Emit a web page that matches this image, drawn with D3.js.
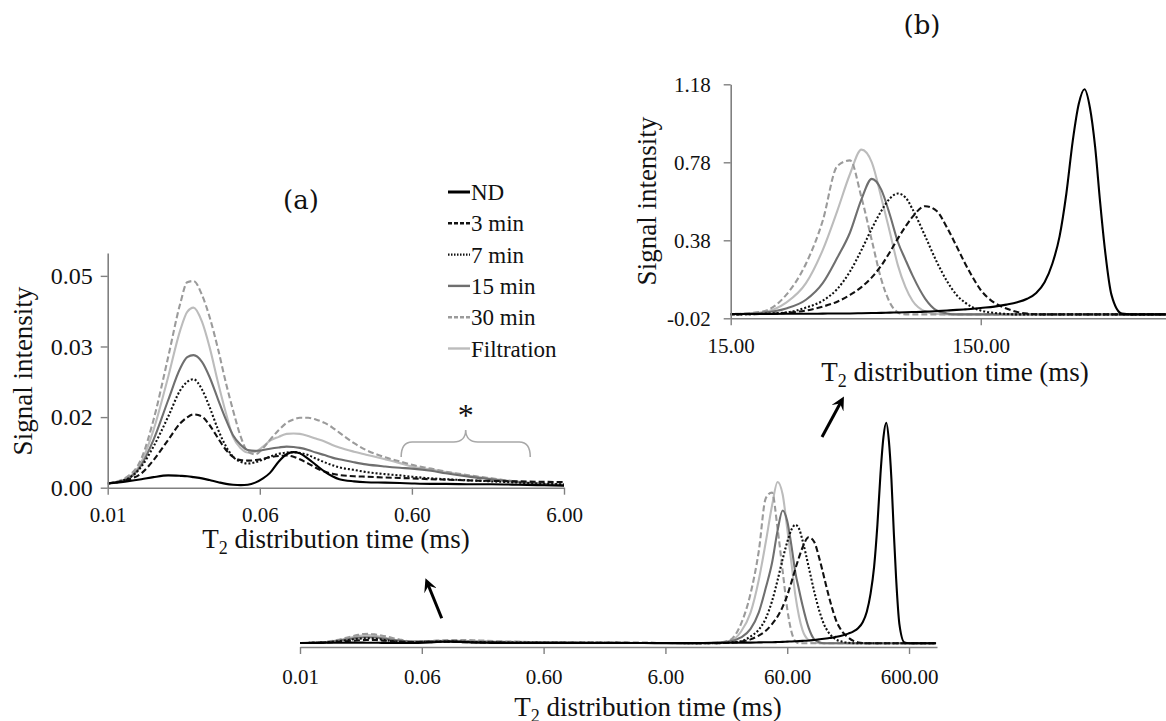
<!DOCTYPE html>
<html>
<head>
<meta charset="utf-8">
<script src="https://cdn.jsdelivr.net/npm/d3@7"></script>
<style>
    body { margin: 0; background: #fff; }
    svg text { font-family: "Liberation Serif", "Times New Roman", serif; fill: #111; }
</style>
</head>
<body>
<svg id="chart" width="1166" height="721"></svg>
<script>
// T2 grid (ms) shared by every series
const t2 = [0.006, 0.008, 0.01, 0.012, 0.015, 0.018, 0.02, 0.022, 0.025, 0.028,
    0.032, 0.036, 0.04, 0.045, 0.05, 0.056, 0.063, 0.07, 0.08, 0.09,
    0.1, 0.11, 0.125, 0.14, 0.16, 0.18, 0.2, 0.25, 0.3, 0.4,
    0.5, 0.6, 0.8, 1, 1.5, 2, 3, 4, 6, 10,
    15, 20, 25, 30, 35, 40, 45, 50, 55, 60, 65, 70, 75, 80,
    90, 100, 110, 120, 130, 140, 150,
    170, 190, 210, 230, 250, 270, 290, 310, 330, 350, 370, 390, 410, 430, 450, 470,
    500, 550, 600, 700, 1000];

// signal intensity of each series on the grid above
const nd = [0.001, 0.0015, 0.002, 0.0025, 0.0029, 0.0028, 0.0027, 0.0025, 0.0022, 0.0018,
    0.0013, 0.0009, 0.0007, 0.0006, 0.0007, 0.0012, 0.0022, 0.0035, 0.0062, 0.0079,
    0.0084, 0.0081, 0.0068, 0.0054, 0.0038, 0.0027, 0.002, 0.0015, 0.0013, 0.0012,
    0.0011, 0.001, 0.0009, 0.0009, 0.0008, 0.0008, 0.0007, 0.0006, 0.0005, 0.0003,
    0.002, 0.002, 0.003, 0.003, 0.004, 0.005, 0.005, 0.006, 0.007, 0.008, 0.009, 0.01, 0.011, 0.012,
    0.014, 0.017, 0.02, 0.023, 0.026, 0.029, 0.033,
    0.04, 0.05, 0.062, 0.08, 0.11, 0.165, 0.26, 0.4, 0.62, 0.89, 1.08, 1.155, 1.06, 0.86, 0.58, 0.34,
    0.1, 0.004, 0, 0, 0];
const min3 = [0.001, 0.0018, 0.0034, 0.0065, 0.0113, 0.0152, 0.0166, 0.0173, 0.0168, 0.0148,
    0.0116, 0.0089, 0.0073, 0.0065, 0.0064, 0.0065, 0.0068, 0.0072, 0.0075, 0.0076,
    0.0073, 0.0067, 0.0057, 0.0047, 0.0038, 0.0033, 0.003, 0.0027, 0.0026, 0.0024,
    0.0023, 0.0022, 0.002, 0.0019, 0.0017, 0.0016, 0.0015, 0.0014, 0.0013, 0.0006,
    0, 0.002, 0.008, 0.02, 0.04, 0.065, 0.1, 0.14, 0.19, 0.25, 0.32, 0.39, 0.45, 0.5,
    0.555, 0.53, 0.445, 0.35, 0.26, 0.185, 0.125,
    0.06, 0.03, 0.012, 0.004, 0.001, 0, 0, 0, 0, 0, 0, 0, 0, 0, 0, 0,
    0, 0, 0, 0, 0];
const min7 = [0.001, 0.002, 0.005, 0.0097, 0.0168, 0.023, 0.025, 0.0256, 0.0232, 0.0191,
    0.0136, 0.0097, 0.0073, 0.0061, 0.0057, 0.006, 0.0066, 0.0073, 0.008, 0.0083,
    0.0084, 0.0082, 0.0077, 0.0069, 0.006, 0.0053, 0.0048, 0.0042, 0.0037, 0.0032,
    0.0029, 0.0026, 0.0022, 0.002, 0.0017, 0.0015, 0.0012, 0.001, 0.0008, 0.0004,
    0, 0.003, 0.01, 0.035, 0.07, 0.13, 0.22, 0.33, 0.44, 0.53, 0.595, 0.62, 0.6, 0.54,
    0.4, 0.27, 0.17, 0.1, 0.06, 0.035, 0.02,
    0.008, 0.002, 0, 0, 0, 0, 0, 0, 0, 0, 0, 0, 0, 0, 0, 0,
    0, 0, 0, 0, 0];
const min15 = [0.001, 0.002, 0.0054, 0.0113, 0.0207, 0.0282, 0.0308, 0.0313, 0.0297, 0.0262,
    0.0207, 0.016, 0.0124, 0.0101, 0.0089, 0.0087, 0.0089, 0.0092, 0.0095, 0.0097,
    0.0096, 0.0094, 0.0089, 0.0083, 0.0077, 0.0071, 0.0067, 0.006, 0.0055, 0.005,
    0.0047, 0.0045, 0.004, 0.0034, 0.0025, 0.002, 0.0013, 0.001, 0.0006, 0.0003,
    0.001, 0.008, 0.03, 0.075, 0.16, 0.29, 0.42, 0.59, 0.695, 0.64, 0.51, 0.37, 0.28, 0.2,
    0.08, 0.02, 0.005, 0, 0, 0, 0,
    0, 0, 0, 0, 0, 0, 0, 0, 0, 0, 0, 0, 0, 0, 0, 0,
    0, 0, 0, 0, 0];
const min30 = [0.001, 0.0025, 0.0069, 0.016, 0.0309, 0.0435, 0.0485, 0.0488, 0.0455, 0.0404,
    0.0325, 0.0246, 0.0183, 0.012, 0.0085, 0.0079, 0.0093, 0.0113, 0.0136, 0.0153,
    0.0161, 0.0165, 0.0165, 0.0161, 0.0153, 0.0142, 0.013, 0.0105, 0.0089, 0.0072,
    0.0062, 0.0054, 0.0045, 0.0038, 0.0028, 0.0022, 0.0014, 0.001, 0.0006, 0.0003,
    0.002, 0.014, 0.1, 0.26, 0.48, 0.76, 0.79, 0.6, 0.38, 0.18, 0.06, 0.01, 0, 0,
    0, 0, 0, 0, 0, 0, 0,
    0, 0, 0, 0, 0, 0, 0, 0, 0, 0, 0, 0, 0, 0, 0, 0,
    0, 0, 0, 0, 0];
const filtration = [0.001, 0.0022, 0.0061, 0.0136, 0.0262, 0.0372, 0.0415, 0.0425, 0.0392, 0.0333,
    0.0246, 0.0175, 0.012, 0.0093, 0.0083, 0.0085, 0.0097, 0.0111, 0.012, 0.0127,
    0.0128, 0.0127, 0.0122, 0.0116, 0.0109, 0.0101, 0.0095, 0.0085, 0.0078, 0.0067,
    0.0058, 0.005, 0.0043, 0.0037, 0.0027, 0.0021, 0.0014, 0.001, 0.0006, 0.0003,
    0.001, 0.01, 0.06, 0.16, 0.33, 0.53, 0.72, 0.845, 0.78, 0.6, 0.42, 0.25, 0.14, 0.07,
    0.015, 0.002, 0, 0, 0, 0, 0,
    0, 0, 0, 0, 0, 0, 0, 0, 0, 0, 0, 0, 0, 0, 0, 0,
    0, 0, 0, 0, 0];

const seriesNames = ['ND', '3 min', '7 min', '15 min', '30 min', 'Filtration'];
const seriesValues = [nd, min3, min7, min15, min30, filtration];
const seriesColors = ['#000', '#111', '#111', '#6f6f6f', '#9b9b9b', '#bcbcbc'];
const seriesDash = [null, '6,3', '2,2', null, '6,3', null];

// tick values (labels use two decimals, like the original axis)
const xTicksMain = [0.006, 0.06, 0.6, 6, 60, 600];
const xTicksA = [0.006, 0.06, 0.6, 6];
const yTicksA = [0, 1 / 60, 2 / 60, 3 / 60];
const xTicksB = [15, 150];
const yTicksB = [-0.02, 0.38, 0.78, 1.18];
const braceRange = [0.51, 3.6];

const svg = d3.select('#chart');
const fmt = d => d.toFixed(2);

function styleAxis(g, fontSize) {
    g.select('.domain').attr('stroke', '#808080').attr('stroke-width', 1.6);
    g.selectAll('.tick line').attr('stroke', '#808080').attr('stroke-width', 1.4);
    g.selectAll('.tick text').attr('font-size', fontSize).attr('fill', '#111')
        .attr('font-family', '"Liberation Serif", serif');
}

function xTitle(x, y) {
    const t = svg.append('text').attr('x', x).attr('y', y)
        .attr('text-anchor', 'middle').attr('font-size', 27);
    t.append('tspan').text('T');
    t.append('tspan').attr('font-size', 18).attr('dy', 6).text('2');
    t.append('tspan').attr('dy', -6).text(' distribution time (ms)');
}

function yTitle(x, y) {
    svg.append('text').attr('transform', `translate(${x},${y}) rotate(-90)`)
        .attr('text-anchor', 'middle').attr('dy', '0.35em')
        .attr('font-size', 27).text('Signal intensity');
}

function drawCurves(x, y, clipId, clip) {
    svg.append('clipPath').attr('id', clipId).append('rect')
        .attr('x', clip[0]).attr('y', clip[1]).attr('width', clip[2]).attr('height', clip[3]);
    const line = d3.line()
        .x(d => x(d[0]))
        .y(d => y(d[1]))
        .curve(d3.curveMonotoneX);
    const g = svg.append('g').attr('clip-path', `url(#${clipId})`);
    // draw lightest first so ND ends on top
    d3.range(seriesNames.length).reverse().forEach(i => {
        g.append('path')
            .datum(t2.map((t, k) => [t, seriesValues[i][k]]))
            .attr('d', line)
            .attr('fill', 'none')
            .attr('stroke', seriesColors[i])
            .attr('stroke-width', 2.1)
            .attr('stroke-dasharray', seriesDash[i]);
    });
}

// ---- main chart ----
const xMain = d3.scaleLog().domain([0.006, 1018]).range([300, 937]);
const yMain = d3.scaleLinear().domain([-0.02, 1.18]).range([647, 418]);
drawCurves(xMain, yMain, 'clipMain', [300, 400, 640, 250]);
svg.append('g').attr('transform', `translate(0,${yMain(-0.02)})`)
    .call(d3.axisBottom(xMain).tickValues(xTicksMain).tickFormat(fmt)
        .tickSize(7).tickSizeOuter(0).tickPadding(15))
    .call(g => styleAxis(g, 21));
xTitle(648, 716);

// ---- inset (a) ----
const xA = d3.scaleLog().domain([0.006, 6]).range([107.7, 564]);
const yA = d3.scaleLinear().domain([0, 0.0554]).range([487.7, 253]);
drawCurves(xA, yA, 'clipA', [107.7, 250, 456.3, 240]);
svg.append('g').attr('transform', `translate(0,${yA(0)})`)
    .call(d3.axisBottom(xA).tickValues(xTicksA).tickFormat(fmt)
        .tickSize(7).tickSizeOuter(0).tickPadding(12))
    .call(g => styleAxis(g, 21));
svg.append('g').attr('transform', `translate(${xA(0.006)},0)`)
    .call(d3.axisLeft(yA).tickValues(yTicksA).tickFormat(fmt)
        .tickSize(7).tickSizeOuter(0).tickPadding(8))
    .call(g => styleAxis(g, 24));
xTitle(336, 548);
yTitle(23, 371);
svg.append('text').attr('x', 301).attr('y', 200).attr('dy', '0.35em')
    .attr('text-anchor', 'middle').attr('font-size', 26)
    .style('font-family', '"DejaVu Serif", serif').text('(a)');

// brace and asterisk over the long tail
const bx0 = xA(braceRange[0]), bx1 = xA(braceRange[1]), bm = (bx0 + bx1) / 2;
svg.append('path')
    .attr('d', `M${bx0},457 C${bx0},447 ${bx0 + 3},442 ${bx0 + 11},442 L${bm - 12},442 C${bm - 5},442 ${bm},438 ${bm},430 ` +
        `C${bm},438 ${bm + 5},442 ${bm + 12},442 L${bx1 - 11},442 C${bx1 - 3},442 ${bx1},447 ${bx1},457`)
    .attr('fill', 'none').attr('stroke', '#a8a8a8').attr('stroke-width', 1.6);
svg.append('text').attr('x', bm).attr('y', 426).attr('text-anchor', 'middle')
    .attr('font-size', 32).text('*');

// legend
const legend = svg.append('g');
seriesNames.forEach((name, i) => {
    const yy = 192 + i * 31.3;
    legend.append('line').attr('x1', 448).attr('x2', 470).attr('y1', yy).attr('y2', yy)
        .attr('stroke', seriesColors[i]).attr('stroke-width', i === 0 ? 3 : 2.4)
        .attr('stroke-dasharray', seriesDash[i] ? (seriesDash[i] === '2,2' ? '1.5,1.5' : '4,2') : null);
    legend.append('text').attr('x', 471).attr('y', yy).attr('dy', '0.35em')
        .attr('font-size', 23).text(name);
});

// ---- inset (b) ----
const xB = d3.scaleLog().domain([15, 826]).range([730.7, 1166]);
const yB = d3.scaleLinear().domain([-0.02, 1.18]).range([318.3, 84.3]);
drawCurves(xB, yB, 'clipB', [730.7, 78, 436, 242]);
svg.append('g').attr('transform', `translate(0,${yB(-0.02)})`)
    .call(d3.axisBottom(xB).tickValues(xTicksB).tickFormat(fmt)
        .tickSize(7).tickSizeOuter(0).tickPadding(13))
    .call(g => styleAxis(g, 21));
svg.append('g').attr('transform', `translate(${xB(15)},0)`)
    .call(d3.axisLeft(yB).tickValues(yTicksB).tickFormat(fmt)
        .tickSize(7).tickSizeOuter(0).tickPadding(13))
    .call(g => styleAxis(g, 21));
xTitle(955, 381);
yTitle(647, 201);
svg.append('text').attr('x', 922).attr('y', 25).attr('dy', '0.35em')
    .attr('text-anchor', 'middle').attr('font-size', 26)
    .style('font-family', '"DejaVu Serif", serif').text('(b)');

// arrows pointing to the insets
svg.append('defs').append('marker')
    .attr('id', 'head').attr('viewBox', '0 0 10 10').attr('refX', 7).attr('refY', 5)
    .attr('markerWidth', 4.5).attr('markerHeight', 4.5).attr('orient', 'auto')
    .append('path').attr('d', 'M0,0 L10,5 L0,10 L4,5 Z').attr('fill', '#000');
[[441.7, 618.3, 427, 582], [822, 437, 842, 400]].forEach(a => {
    svg.append('line').attr('x1', a[0]).attr('y1', a[1]).attr('x2', a[2]).attr('y2', a[3])
        .attr('stroke', '#000').attr('stroke-width', 3).attr('marker-end', 'url(#head)');
});
</script>
</body>
</html>
